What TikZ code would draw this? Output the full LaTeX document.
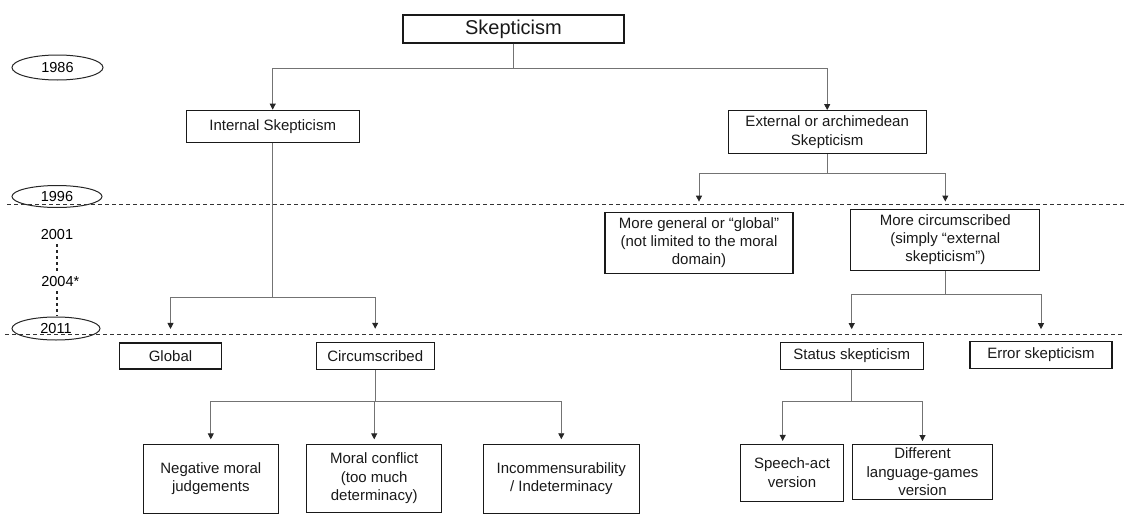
\documentclass[tikz,border=0pt]{standalone}
\usepackage{fontspec}
\setmainfont{Liberation Sans}
\usetikzlibrary{arrows.meta,shapes.geometric,calc}
\newcommand\bodyfs{\fontsize{15}{18.3}\selectfont}
\newcommand\yearfs{\fontsize{14.5}{17}\selectfont}
\begin{document}
\begin{tikzpicture}[x=1pt,y=-1pt,
 box/.style={draw=black!90, line width=1.3pt, align=center, inner sep=0pt, font=\bodyfs, text=black!90},
 yearell/.style={ellipse, draw=black!85, line width=1pt, inner sep=0pt, minimum width=90pt, minimum height=24pt, font=\yearfs},
 yeartxt/.style={font=\yearfs, inner sep=0pt},
 conn/.style={draw=black!55, line width=0.9pt},
 arr/.style={conn, -{Triangle[width=6pt,length=6pt,color=black!85]}},
 timeline/.style={draw=black!80, line width=1pt, dash pattern=on 4pt off 3pt},
 vdash/.style={draw=black!85, line width=1.2pt, dash pattern=on 3pt off 3pt},
]
\useasboundingbox (0,0) rectangle (1125,514);

% boxes
\node[box, minimum width=221pt, minimum height=28pt, font=\fontsize{20}{24}\selectfont] (sk) at (513.5,29) {Skepticism};
\node[box, minimum width=173pt, minimum height=32pt] (int) at (272.7,126.3) {Internal Skepticism};
\node[box, minimum width=198pt, minimum height=43pt] (ext) at (827.2,132.2) {External or archimedean\\Skepticism};
\node[box, minimum width=188pt, minimum height=61pt] (gen) at (699,242.8) {More general or “global”\\(not limited to the moral\\domain)};
\node[box, minimum width=189pt, minimum height=61pt] (mcirc) at (945.3,239.7) {More circumscribed\\(simply “external\\skepticism”)};
\node[box, minimum width=102pt, minimum height=26pt] (glob) at (170.5,356) {Global};
\node[box, minimum width=118pt, minimum height=27pt] (circ) at (375.2,356.3) {Circumscribed};
\node[box, minimum width=143pt, minimum height=27pt] (stat) at (851.7,356) {Status skepticism};
\node[box, minimum width=142pt, minimum height=27pt] (err) at (1041,355) {Error skepticism};
\node[box, minimum width=135pt, minimum height=69pt] (neg) at (210.8,478.8) {Negative moral\\judgements};
\node[box, minimum width=135pt, minimum height=68pt] (mor) at (374.2,478.3) {Moral conflict\\(too much\\determinacy)};
\node[box, minimum width=156pt, minimum height=69pt] (inc) at (561.3,478.7) {Incommensurability\\/ Indeterminacy};
\node[box, minimum width=103pt, minimum height=57pt] (sp) at (792,472.7) {Speech-act\\version};
\node[box, minimum width=140pt, minimum height=55pt] (dl) at (922.5,471.8) {Different\\language-games\\version};

% years
\node[yearell, minimum width=91pt, minimum height=25pt] (y86) at (57.5,67.5) {1986};
\node[yearell, minimum height=22pt] (y96) at (57,196.5) {1996};
\node[yearell, minimum width=88pt, minimum height=23pt] (y11) at (56,328.5) {2011};
\node[yeartxt] (y01) at (57,235) {2001};
\node[yeartxt] (y04) at (60.3,281.7) {2004*};

\draw[vdash, shorten <=4pt, shorten >=5pt] (y01.south) -- (y01.south |- y04.north);
\draw[vdash, shorten <=4pt, shorten >=1pt] (y01.south |- y04.south) -- (y01.south |- y11.north);

% timeline dashed lines
\coordinate (d1l) at (7,204.3);
\coordinate (d1r) at (1125,204.3);
\coordinate (d2l) at (5,334.3);
\coordinate (d2r) at (1125,334.3);
\draw[timeline] (d1l) -- (d1r);
\draw[timeline] (d2l) -- (d2r);

% connectors
\draw[arr] (sk.south) -- ++(0,24.7) -| (int.north);
\draw[arr] (sk.south) -- ++(0,24.7) -| (ext.north);

\draw[arr, shorten >=10pt] (ext.south) -- ++(0,19) -| (gen.north);
\draw[arr, shorten >=7pt] (ext.south) -- ++(0,19) -| (mcirc.north);

\draw[arr, shorten >=13.4pt] (int.south) -- ++(0,154.4) -| (glob.north);
\draw[arr, shorten >=13.4pt] (int.south) -- ++(0,154.4) -| (circ.north);

\draw[arr, shorten >=12.7pt] (mcirc.south) -- ++(0,24) -| (stat.north);
\draw[arr, shorten >=11.7pt] (mcirc.south) -- ++(0,24) -| (err.north);

\draw[arr, shorten >=4.3pt] (circ.south) -- ++(0,31) -| (neg.north);
\draw[arr, shorten >=4.3pt] (circ.south) -- ++(0,31) -| (mor.north);
\draw[arr, shorten >=4.3pt] (circ.south) -- ++(0,31) -| (inc.north);

\draw[arr, shorten >=2.6pt] (stat.south) -- ++(0,31.7) -| ([xshift=-9.3pt]sp.north);
\draw[arr, shorten >=2.6pt] (stat.south) -- ++(0,31.7) -| (dl.north);
\end{tikzpicture}
\end{document}
